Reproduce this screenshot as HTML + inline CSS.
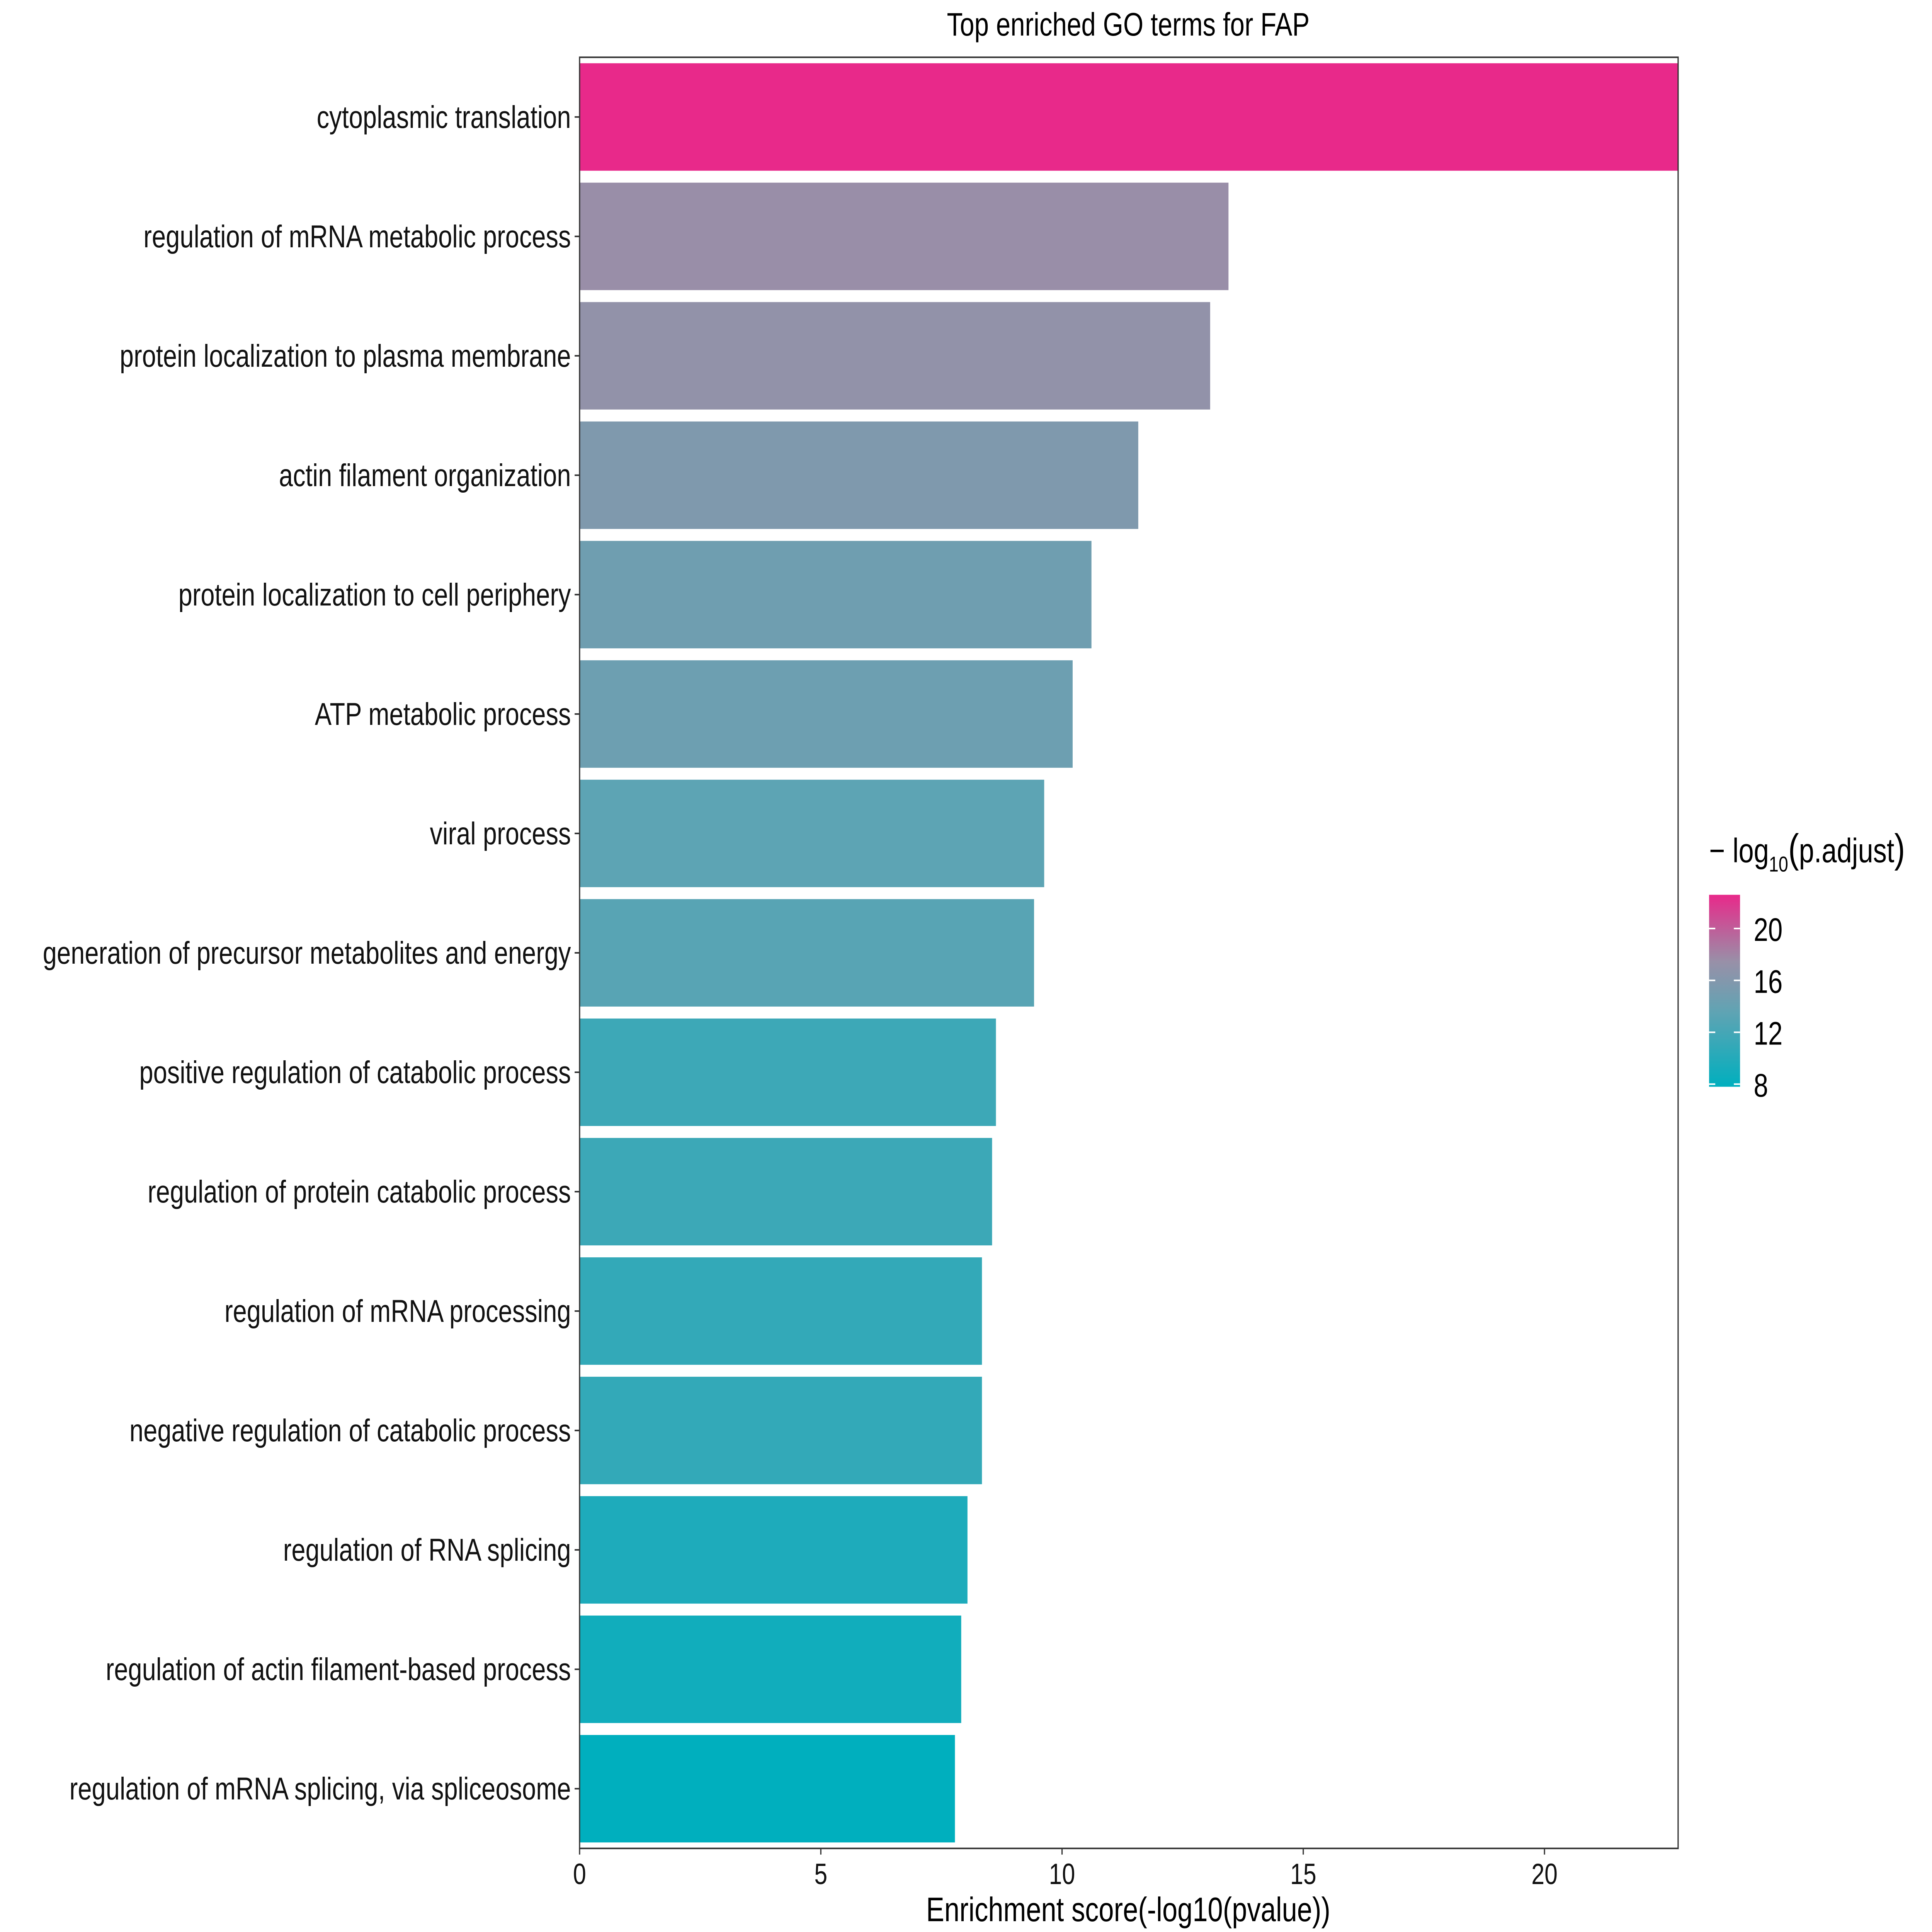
<!DOCTYPE html>
<html><head><meta charset="utf-8"><style>
html,body{margin:0;padding:0;background:#fff;overflow:hidden;}
svg{display:block;font-family:"Liberation Sans",sans-serif;width:100vw;height:100vh;position:absolute;left:0;top:0;}
</style></head><body>
<svg id="chart" viewBox="0 0 1560 1248" preserveAspectRatio="none" xmlns="http://www.w3.org/2000/svg">
<rect width="1560" height="1248" fill="#fff"/>
<text x="911" y="23" font-size="21" text-anchor="middle" fill="#000">Top enriched GO terms for FAP</text>
<g id="bars"></g>
<rect x="468" y="37" width="887" height="1157" fill="none" stroke="#333" stroke-width="1"/>
<g id="yaxis"></g>
<g id="xaxis"></g>
<text x="911" y="1241" font-size="22" text-anchor="middle" fill="#000">Enrichment score(-log10(pvalue))</text>
<g id="legend">
<text x="1380" y="557" font-size="22" fill="#000">− log<tspan font-size="14" dy="6">10</tspan><tspan dy="-6" font-size="26">(</tspan>p.adjust<tspan font-size="26">)</tspan></text>
<defs><linearGradient id="lg" x1="0" y1="1" x2="0" y2="0">
<stop offset="0" stop-color="#00AFBE"/><stop offset="0.4" stop-color="#62A3B3"/><stop offset="0.65" stop-color="#9890A8"/><stop offset="1" stop-color="#E8298A"/></linearGradient></defs>
<rect x="1380" y="578" width="25" height="124" fill="url(#lg)"/>
<g id="legticks"></g>
</g>
</svg>
<script>
const terms=["cytoplasmic translation","regulation of mRNA metabolic process","protein localization to plasma membrane","actin filament organization","protein localization to cell periphery","ATP metabolic process","viral process","generation of precursor metabolites and energy","positive regulation of catabolic process","regulation of protein catabolic process","regulation of mRNA processing","negative regulation of catabolic process","regulation of RNA splicing","regulation of actin filament-based process","regulation of mRNA splicing, via spliceosome"];
const scores=[22.77,13.45,13.07,11.58,10.61,10.22,9.63,9.42,8.63,8.55,8.34,8.34,8.04,7.91,7.78];
const padj=[22.6,17.5,17.0,15.7,14.6,14.5,13.4,13.1,11.5,11.4,10.9,10.9,9.6,8.8,7.8];
const xTicks=[0,5,10,15,20];
const legTicks=[8,12,16,20];
const NS="http://www.w3.org/2000/svg";
const X0=468,X1=1355,XMAX=22.77,Y0=37,Y1=1194;
const xs=v=>X0+v/XMAX*(X1-X0);
const band=(Y1-Y0)/terms.length;
const yc=i=>Y0+band*(i+0.5);
const pmin=7.8,pmax=22.6;
const ly=v=>702-(v-pmin)/(pmax-pmin)*124;
const stops=[[0,[0,175,190]],[0.4,[98,163,179]],[0.65,[152,144,168]],[1,[232,41,138]]];
function col(v){let t=Math.max(0,Math.min(1,(v-pmin)/(pmax-pmin)));
for(let k=1;k<stops.length;k++){if(t<=stops[k][0]){const a=stops[k-1],b=stops[k],u=(t-a[0])/(b[0]-a[0]);
return "rgb("+a[1].map((c,j)=>Math.round(c+(b[1][j]-c)*u)).join(",")+")";}}return "rgb(232,41,138)";}
function mk(tag,at,parent){const e=document.createElementNS(NS,tag);for(const k in at)e.setAttribute(k,at[k]);parent.appendChild(e);return e;}
const gb=document.getElementById('bars'),gy=document.getElementById('yaxis'),gx=document.getElementById('xaxis'),gl=document.getElementById('legticks');
const bh=band*0.9;
terms.forEach((t,i)=>{
 const r=mk('rect',{x:X0,y:yc(i)-bh/2,width:xs(scores[i])-X0,height:bh,fill:col(padj[i])},gb);
 
 
 const tk=mk('line',{x1:X0-4,x2:X0,y1:yc(i),y2:yc(i),stroke:'#333','stroke-width':1},gy);
 
 
 const lb=mk('text',{x:X0-7,y:yc(i)+7,'font-size':20.3,'text-anchor':'end',fill:'#111'},gy);
 lb.textContent=t;
 
 
});
xTicks.forEach(v=>{
 const tk=mk('line',{x1:xs(v),x2:xs(v),y1:Y1,y2:Y1+4,stroke:'#333','stroke-width':1},gx);
 
 
 const lb=mk('text',{x:xs(v),y:Y1+23,'font-size':19,'text-anchor':'middle',fill:'#111'},gx);
 lb.textContent=v;
 
 
});
legTicks.forEach(v=>{
 const y=ly(v);
 mk('line',{x1:1380,x2:1385,y1:y,y2:y,stroke:'#fff','stroke-width':1},gl);
 mk('line',{x1:1400,x2:1405,y1:y,y2:y,stroke:'#fff','stroke-width':1},gl);
 const lb=mk('text',{x:1416,y:y+8,'font-size':21,fill:'#000'},gl);
 lb.textContent=v;
 
 
});
</script>
</body></html>
